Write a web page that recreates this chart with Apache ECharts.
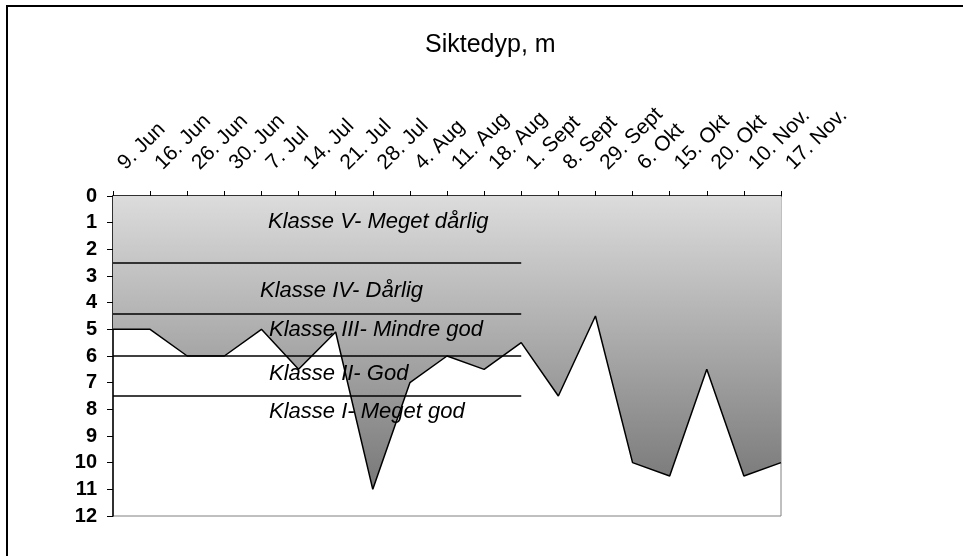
<!DOCTYPE html>
<html>
<head>
<meta charset="utf-8">
<script src="https://cdn.jsdelivr.net/npm/echarts@6/dist/echarts.min.js"></script>
<style>
  html, body { margin: 0; padding: 0; background: #fff; }
  #main { width: 963px; height: 556px; }
</style>
</head>
<body>
<div id="main"></div>
<script>
var dates = ["9. Jun", "16. Jun", "26. Jun", "30. Jun", "7. Jul", "14. Jul", "21. Jul", "28. Jul",
  "4. Aug", "11. Aug", "18. Aug", "1. Sept", "8. Sept", "29. Sept", "6. Okt", "15. Okt",
  "20. Okt", "10. Nov.", "17. Nov."];
var siktedyp = [5, 5, 6, 6, 5, 6.5, 5.1, 11, 7, 6, 6.5, 5.5, 7.5, 4.5, 10, 10.5, 6.5, 10.5, 10];
// class boundaries (m) and the last date the lines reach
var grenser = [2.5, 4.4, 6, 7.5];
var grenseSlutt = "1. Sept";
var klasser = [
  { navn: "Klasse V- Meget dårlig", x: 268, y: 223 },
  { navn: "Klasse IV- Dårlig", x: 260, y: 292 },
  { navn: "Klasse III- Mindre god", x: 269, y: 331 },
  { navn: "Klasse II- God", x: 269, y: 375 },
  { navn: "Klasse I- Meget god", x: 269, y: 413 }
];

var font = "Liberation Sans, Arial, sans-serif";
var myChart = echarts.init(document.getElementById("main"));

myChart.setOption({
  animation: false,
  title: {
    text: "Siktedyp, m",
    left: 420,
    top: 28,
    textStyle: { fontFamily: font, fontSize: 25, fontWeight: "normal", color: "#000" }
  },
  grid: { left: 113, top: 196, right: 182, bottom: 40, show: true, borderColor: "#808080", borderWidth: 1, backgroundColor: "transparent" },
  xAxis: {
    type: "category",
    position: "top",
    boundaryGap: false,
    data: dates,
    axisLine: { lineStyle: { color: "#000", width: 1.5 } },
    axisTick: { show: true, inside: false, length: 5, interval: 0, lineStyle: { color: "#000" } },
    axisLabel: { interval: 0, rotate: 45, margin: 21, padding: [0, 0, 0, 12], fontFamily: font, fontSize: 21, color: "#000" },
    splitLine: { show: false }
  },
  yAxis: {
    type: "value",
    inverse: true,
    min: 0,
    max: 12,
    interval: 1,
    axisLine: { show: true, lineStyle: { color: "#000", width: 1.5 } },
    axisTick: { show: true, length: 6, lineStyle: { color: "#000" } },
    axisLabel: { margin: 16, fontFamily: font, fontSize: 20, fontWeight: "bold", color: "#000" },
    splitLine: { show: false }
  },
  series: [
    {
      name: "Siktedyp",
      type: "line",
      data: siktedyp,
      symbol: "none",
      lineStyle: { color: "#000", width: 1.5 },
      areaStyle: {
        origin: "start",
        opacity: 1,
        color: new echarts.graphic.LinearGradient(0, 0, 0, 1, [
          { offset: 0, color: "#dcdcdc" },
          { offset: 1, color: "#787878" }
        ])
      },
      markLine: {
        silent: true,
        symbol: "none",
        label: { show: false },
        lineStyle: { color: "#000", width: 1.5, type: "solid" },
        data: grenser.map(function (g) {
          return [{ coord: [dates[0], g] }, { coord: [grenseSlutt, g] }];
        })
      }
    }
  ],
  graphic: [
    {
      type: "rect",
      shape: { x: 7, y: 6, width: 1000, height: 600 },
      style: { fill: "none", stroke: "#000", lineWidth: 2 },
      silent: true
    }
  ].concat(klasser.map(function (k) {
    return {
      type: "text",
      left: k.x,
      top: k.y - 12,
      z: 100,
      style: { text: k.navn, fontFamily: font, fontSize: 22, fontStyle: "italic", fill: "#000" }
    };
  }))
});
</script>
</body>
</html>
